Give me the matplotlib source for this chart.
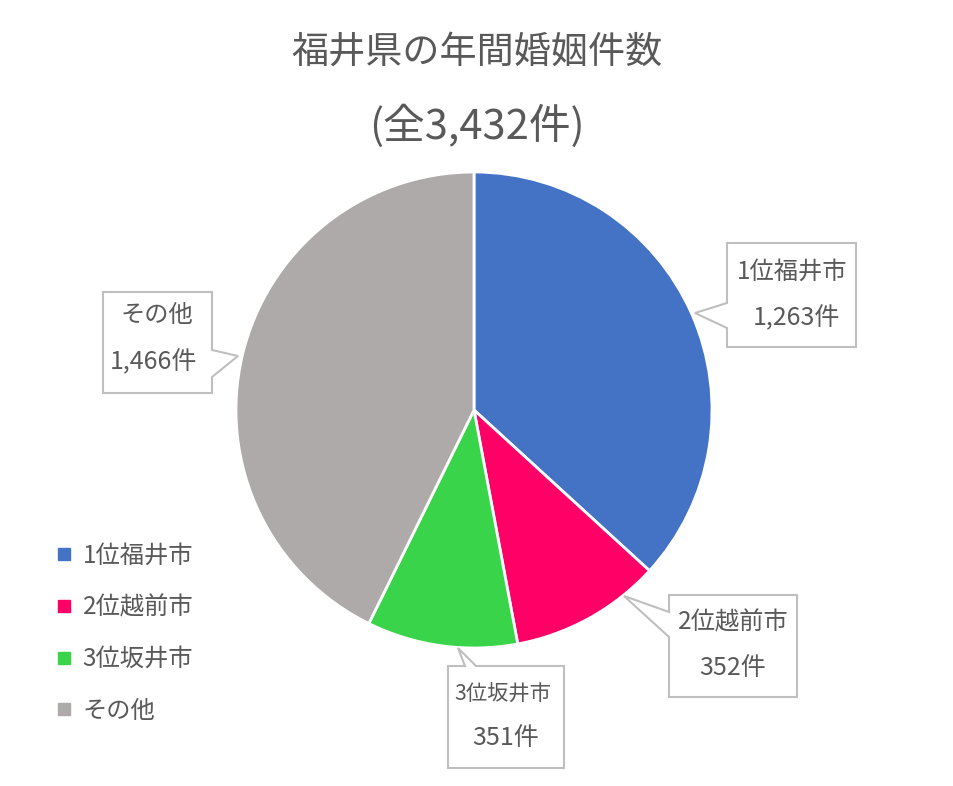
import matplotlib
matplotlib.use('Agg')
from matplotlib import pyplot as plt
from matplotlib.lines import Line2D
from matplotlib.patches import Polygon

plt.rcParams['font.family'] = ['Noto Sans CJK JP', 'DejaVu Sans']

labels = ['1位福井市', '2位越前市', '3位坂井市', 'その他']
counts = [1263, 352, 351, 1466]
count_text = ['1,263件', '352件', '351件', '1,466件']
colors = ['#4472C4', '#FF0066', '#3AD44A', '#AEAAAA']
title = '福井県の年間婚姻件数'
subtitle = '(全3,432件)'

TXT = '#595959'
W, H = 954, 786
fig = plt.figure(figsize=(W / 100, H / 100), dpi=100)

# pie, centre (474, 410) px, radius 238 px
cx, cy, r = 474, 410, 238
pax = fig.add_axes([(cx - r) / W, (H - cy - r) / H, 2 * r / W, 2 * r / H])
wedges, _ = pax.pie(counts, colors=colors, startangle=90, counterclock=False,
                    wedgeprops=dict(edgecolor='white', linewidth=2))
pax.set_xlim(-1, 1)
pax.set_ylim(-1, 1)
pax.set_aspect('equal')

fig.text(477 / W, 1 - 52 / H, title, ha='center', va='center', fontsize=26.7, color=TXT)
fig.text(477 / W, 1 - 126 / H, subtitle, ha='center', va='center', fontsize=30, color=TXT)

# overlay in pixel coordinates for the callouts
ov = fig.add_axes([0, 0, 1, 1], zorder=5)
ov.set_xlim(0, W)
ov.set_ylim(H, 0)
ov.axis('off')


def callout(box, side, base, tip):
    x0, y0, x1, y1 = box
    b0, b1 = base
    if side == 'left':
        pts = [(x0, y0), (x1, y0), (x1, y1), (x0, y1), (x0, b1), tip, (x0, b0)]
    elif side == 'right':
        pts = [(x0, y0), (x1, y0), (x1, b0), tip, (x1, b1), (x1, y1), (x0, y1)]
    else:  # top
        pts = [(x0, y0), (b0, y0), tip, (b1, y0), (x1, y0), (x1, y1), (x0, y1)]
    ov.add_patch(Polygon(pts, closed=True, facecolor='white',
                         edgecolor='#BFBFBF', linewidth=1.5))


boxes = [
    dict(box=(727, 243, 856, 347), side='left', base=(303, 328), tip=(695, 313),
         t1=(792, 272), t2=(796, 318), fs1=17.5),
    dict(box=(669, 595, 797, 697), side='left', base=(612, 637), tip=(624, 596),
         t1=(733, 622), t2=(733, 668), fs1=17.5),
    dict(box=(448, 666, 564, 768), side='top', base=(465, 476), tip=(458, 648),
         t1=(503, 695), t2=(506, 738), fs1=15.3),
    dict(box=(103, 292, 212, 393), side='right', base=(350, 377), tip=(238, 356),
         t1=(157, 315), t2=(153, 362), fs1=17.5),
]
for b, lab, ct in zip(boxes, labels, count_text):
    callout(b['box'], b['side'], b['base'], b['tip'])
    ov.text(*b['t1'], lab, ha='center', va='center', fontsize=b['fs1'], color=TXT)
    ov.text(*b['t2'], ct, ha='center', va='center', fontsize=18, color=TXT)

handles = [Line2D([], [], linestyle='none', marker='s', markersize=8.6,
                  markerfacecolor=c, markeredgecolor=c) for c in colors]
fig.legend(handles, labels, loc='upper left', bbox_to_anchor=(57 / W, 1 - 543 / H),
           frameon=False, fontsize=17.5, labelcolor=TXT, handlelength=0.6,
           handletextpad=0.45, labelspacing=1.05, borderpad=0, borderaxespad=0)

fig.savefig('out.png', dpi=100, facecolor='white')
